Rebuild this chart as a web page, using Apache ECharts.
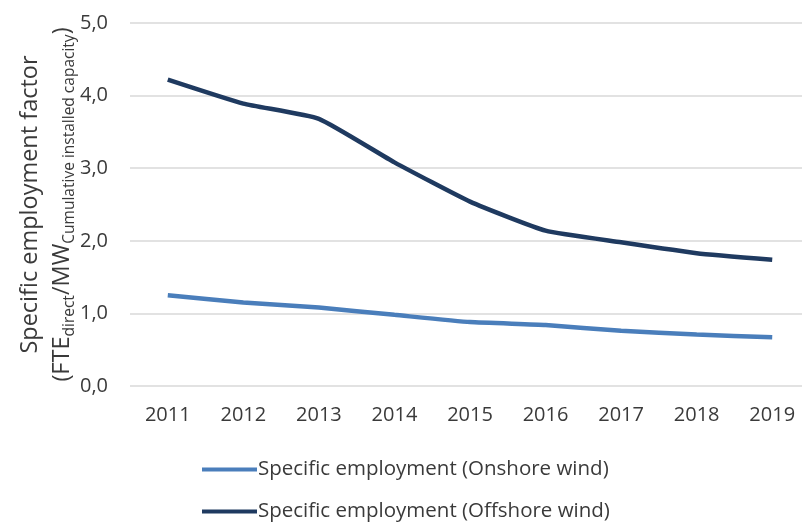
<!DOCTYPE html>
<html>
<head>
<meta charset="utf-8">
<script src="https://cdn.jsdelivr.net/npm/echarts@6/dist/echarts.min.js"></script>
<style>
html,body{margin:0;padding:0;background:#fff;}
#chart{width:802px;height:526px;}
</style>
</head>
<body>
<div id="chart"></div>
<script>
const years = ['2011','2012','2013','2014','2015','2016','2017','2018','2019'];
const onshore = [1.25, 1.15, 1.08, 0.98, 0.88, 0.84, 0.76, 0.71, 0.67];
const offshore = [4.22, 3.89, 3.68, 3.08, 2.54, 2.14, 1.98, 1.83, 1.74];
const seriesNames = ['Specific employment (Onshore wind)', 'Specific employment (Offshore wind)'];

const FONT = '"Open Sans", "Liberation Sans", sans-serif';
const TXT = '#3a3a3a';
const chart = echarts.init(document.getElementById('chart'), null, {renderer: 'canvas'});
chart.setOption({
  animation: false,
  backgroundColor: '#ffffff',
  grid: {left: 130, top: 23, width: 680, bottom: 140, containLabel: false, outerBoundsMode: 'none'},
  legend: {
    orient: 'vertical',
    left: 197,
    top: 454,
    height: 72,
    itemWidth: 55,
    itemHeight: 4,
    itemGap: 21,
    icon: 'rect',
    textStyle: {fontFamily: FONT, fontSize: 20.5, color: TXT, padding: [0,0,0,-4]},
    data: seriesNames
  },
  xAxis: {
    type: 'category',
    data: years,
    boundaryGap: true,
    axisLine: {show: false},
    axisTick: {show: false},
    axisLabel: {fontFamily: FONT, fontSize: 20, color: TXT, margin: 19}
  },
  yAxis: {
    type: 'value',
    min: 0, max: 5, interval: 1,
    axisLine: {show: false},
    axisTick: {show: false},
    splitLine: {lineStyle: {color: '#d9d9d9', width: 1.5}},
    axisLabel: {
      fontFamily: FONT, fontSize: 20, color: TXT, margin: 22,
      formatter: v => v.toFixed(1).replace('.', ',')
    },
    name: '{t|Specific employment factor}\n{p|(FTE}{s|direct}{p|/MW}{s|Cumulative installed capacity}{p|)}',
    nameLocation: 'middle',
    nameRotate: 90,
    nameGap: 52,
    nameMoveOverlap: false,
    nameTextStyle: {
      fontFamily: FONT, color: TXT, align: 'center',
      rich: {
        t: {fontFamily: FONT, fontSize: 23.5, color: TXT, lineHeight: 32},
        p: {fontFamily: FONT, fontSize: 23.5, color: TXT, lineHeight: 32},
        s: {fontFamily: FONT, fontSize: 15.5, color: TXT, lineHeight: 32, verticalAlign: 'bottom'}
      }
    }
  },
  series: [
    {
      name: seriesNames[0], type: 'line', data: onshore,
      symbol: 'none', smooth: 0.15,
      lineStyle: {color: '#4a7ebb', width: 4.5},
      itemStyle: {color: '#4a7ebb'}
    },
    {
      name: seriesNames[1], type: 'line', data: offshore,
      symbol: 'none', smooth: 0.15,
      lineStyle: {color: '#1f3a60', width: 4.5},
      itemStyle: {color: '#1f3a60'}
    }
  ]
});
</script>
</body>
</html>
